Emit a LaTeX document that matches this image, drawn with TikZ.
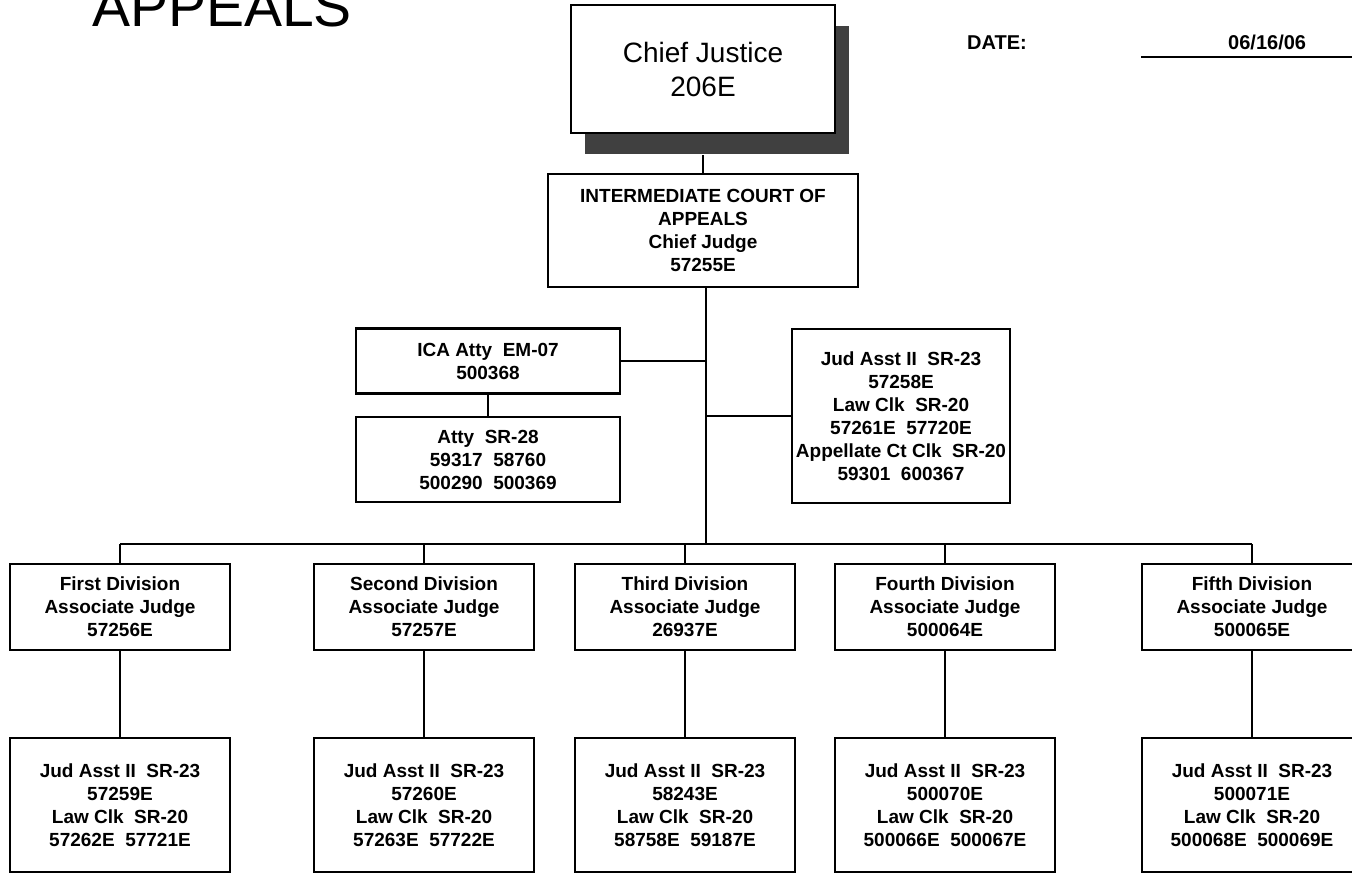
\documentclass[tikz,border=0pt]{standalone}
\usepackage{fontspec}
\setmainfont{Liberation Sans}
\usetikzlibrary{shadows}

\begin{document}
\begin{tikzpicture}[x=1pt, y=-1pt,
        box/.style={draw, line width=2.7pt, align=center, inner sep=0pt, fill=white, font=\bfseries\fontsize{19}{23}\selectfont},
        divbox/.style={box, minimum width=220pt, minimum height=86pt},
        staffbox/.style={box, minimum width=220pt, minimum height=134pt},
        link/.style={line width=2pt}]
        \useasboundingbox (0,0) rectangle (1352,874);
        \node[anchor=base west, inner sep=0pt, font=\fontsize{57}{60}\selectfont] (title) at (92,27) {APPEALS};
        \node[anchor=base west, inner sep=0pt, font=\bfseries\fontsize{20}{24}\selectfont] (datelabel) at (967,50) {DATE:};
        \node[anchor=base west, inner sep=0pt, font=\bfseries\fontsize{20}{24}\selectfont] (date) at (1228,50) {06/16/06};
        \draw[line width=2.4pt] (1141,57) -- (1352,57);

        \node[box, minimum width=264pt, minimum height=128pt, font=\fontsize{28}{34}\selectfont,
            drop shadow={shadow xshift=14pt, shadow yshift=-21pt, fill=black!75, opacity=1}] (cj) at (703,69) {Chief Justice\\206E};
        \node[box, minimum width=310pt, minimum height=113pt] (ica) at (703,230.5) {INTERMEDIATE COURT OF\\APPEALS\\Chief Judge\\57255E};
        \node[box, minimum width=264pt, minimum height=65pt] (icaatty) at (488,361) {ICA Atty\ \ EM-07\\500368};
        \node[box, minimum width=264pt, minimum height=85pt] (atty) at (488,459.5) {Atty\ \ SR-28\\59317\ \ 58760\\500290\ \ 500369};
        \node[box, minimum width=218pt, minimum height=174pt] (jud) at (901,416) {Jud Asst II\ \ SR-23\\57258E\\Law Clk\ \ SR-20\\57261E\ \ 57720E\\Appellate Ct Clk\ \ SR-20\\59301\ \ 600367};

        \node[divbox] (div1) at (120,607) {First Division\\Associate Judge\\57256E};
        \node[divbox] (div2) at (424,607) {Second Division\\Associate Judge\\57257E};
        \node[divbox] (div3) at (685,607) {Third Division\\Associate Judge\\26937E};
        \node[divbox] (div4) at (945,607) {Fourth Division\\Associate Judge\\500064E};
        \node[divbox] (div5) at (1252,607) {Fifth Division\\Associate Judge\\500065E};

        \node[staffbox] (staff1) at (120,805) {Jud Asst II\ \ SR-23\\57259E\\Law Clk\ \ SR-20\\57262E\ \ 57721E};
        \node[staffbox] (staff2) at (424,805) {Jud Asst II\ \ SR-23\\57260E\\Law Clk\ \ SR-20\\57263E\ \ 57722E};
        \node[staffbox] (staff3) at (685,805) {Jud Asst II\ \ SR-23\\58243E\\Law Clk\ \ SR-20\\58758E\ \ 59187E};
        \node[staffbox] (staff4) at (945,805) {Jud Asst II\ \ SR-23\\500070E\\Law Clk\ \ SR-20\\500066E\ \ 500067E};
        \node[staffbox] (staff5) at (1252,805) {Jud Asst II\ \ SR-23\\500071E\\Law Clk\ \ SR-20\\500068E\ \ 500069E};

        \coordinate (bus) at (706,544);
        \draw[link] (cj.south) ++(0,21) -- (ica.north);
        \draw[link] (ica.south -| bus) -- (bus);
        \draw[link] (icaatty.east) -- (icaatty.east -| bus);
        \draw[link] (jud.west) -- (jud.west -| bus);
        \draw[link] (icaatty) -- (atty);
        \draw[link] (div1.north |- bus) -- (div5.north |- bus);
        \draw[link] (div1) -- (div1.north |- bus);
        \draw[link] (div2) -- (div2.north |- bus);
        \draw[link] (div3) -- (div3.north |- bus);
        \draw[link] (div4) -- (div4.north |- bus);
        \draw[link] (div5) -- (div5.north |- bus);
        \draw[link] (div1) -- (staff1);
        \draw[link] (div2) -- (staff2);
        \draw[link] (div3) -- (staff3);
        \draw[link] (div4) -- (staff4);
        \draw[link] (div5) -- (staff5);
\end{tikzpicture}
\end{document}
